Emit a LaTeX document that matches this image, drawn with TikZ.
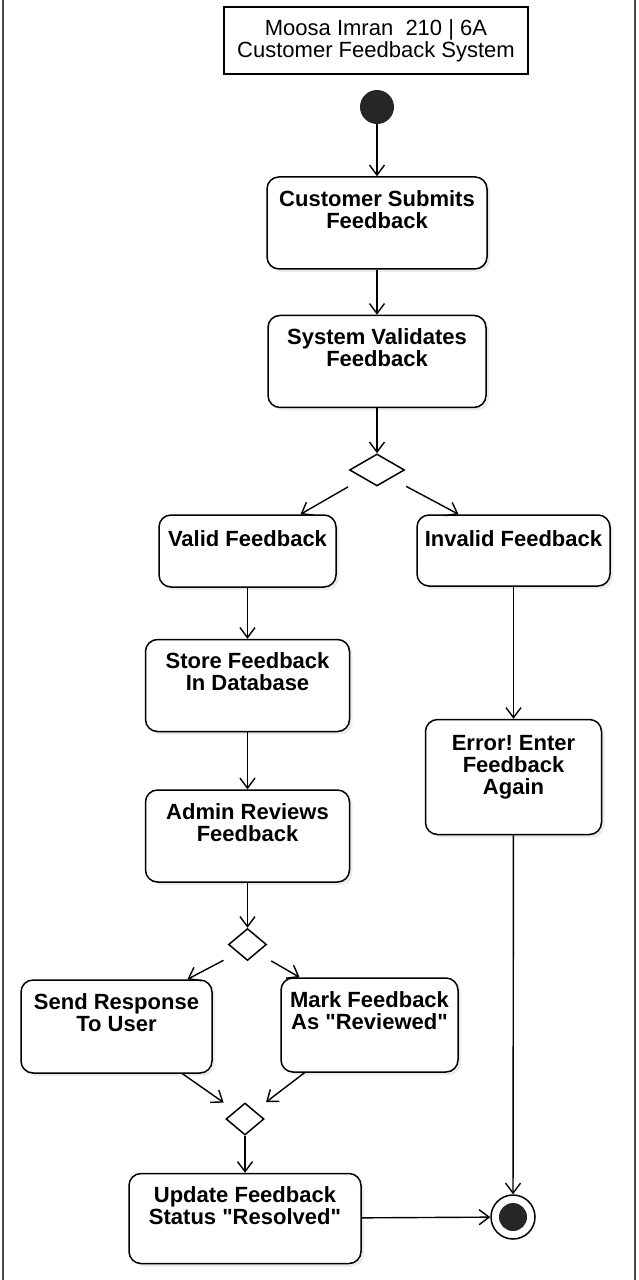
\documentclass[tikz,border=0pt]{standalone}
\usepackage{fontspec}
\setmainfont{Liberation Sans}
\usetikzlibrary{arrows.meta,positioning,shapes.geometric,shadows,calc}
\frenchspacing

\begin{document}
\begin{tikzpicture}[
  x=1pt,y=-1pt,
  >={Straight Barb[length=10pt,width=15pt]},
  act/.style={draw,fill=white,rounded corners=12pt,line width=1.5pt,
    drop shadow={shadow xshift=3pt,shadow yshift=-3pt,opacity=.15}},
  acttext/.style={anchor=north,yshift=-14pt,inner sep=0pt,align=center,
    font=\fontsize{22}{22}\selectfont\bfseries},
  decision/.style={diamond,draw,fill=white,line width=1.5pt,inner sep=0pt},
  flow/.style={->,line width=1.4pt}
]
\useasboundingbox (0,0) rectangle (638,1280);
% sheet edges
\draw[line width=1.2pt,black!70] (3,0) -- (3,1280);
\draw[line width=1.2pt,black!70] (635,0) -- (635,1280);

\node[draw,line width=1.4pt,minimum width=304pt,minimum height=67pt,align=center,
  font=\fontsize{22}{22}\selectfont] (title) at (376,40.5)
  {Moosa Imran~~210 | 6A\\Customer Feedback System};

\node[circle,fill=black!85,minimum size=34pt,inner sep=0pt] (init) at (377,107) {};
\node[act,minimum width=220pt,minimum height=92pt,below=52pt of init,
  label={[acttext]north:{Customer Submits\\Feedback}}] (submit) {};
\node[act,minimum width=218pt,minimum height=92pt,below=45pt of submit,
  label={[acttext]north:{System Validates\\Feedback}}] (validate) {};
\node[decision,minimum width=55pt,minimum height=32pt,below=45pt of validate] (dec1) {};

% valid branch
\node[act,minimum width=177pt,minimum height=72pt,
  label={[acttext,yshift=-2pt]north:{Valid Feedback}}] (valid) at (247.5,551) {};
\node[act,minimum width=204pt,minimum height=92pt,below=51pt of valid,
  label={[acttext]north:{Store Feedback\\In Database}}] (store) {};
\node[act,minimum width=204pt,minimum height=92pt,below=57pt of store,
  label={[acttext]north:{Admin Reviews\\Feedback}}] (review) {};
\node[decision,minimum width=38pt,minimum height=32pt,below=45pt of review] (dec2) {};
\node[act,minimum width=191pt,minimum height=93pt,
  label={[acttext]north:{Send Response\\To User}}] (send) at (116.5,1026.5) {};
\node[act,minimum width=177pt,minimum height=94pt,
  label={[acttext]north:{Mark Feedback\\As \textquotedbl Reviewed\textquotedbl}}] (mark) at (369.5,1025) {};
\node[decision,minimum width=38pt,minimum height=32pt] (dec3) at (245,1119) {};
\node[act,minimum width=232pt,minimum height=90pt,below=37pt of dec3,
  label={[acttext]north:{Update Feedback\\Status \textquotedbl Resolved\textquotedbl}}] (update) {};

% invalid branch
\node[act,minimum width=193pt,minimum height=71pt,
  label={[acttext,yshift=-2pt]north:{Invalid Feedback}}] (invalid) at (513.5,550.5) {};
\node[act,minimum width=176pt,minimum height=115pt,below=132pt of invalid,
  label={[acttext,yshift=-2pt]north:{Error! Enter\\Feedback\\Again}}] (error) {};

\node[circle,draw,fill=white,line width=1.5pt,minimum size=44pt,inner sep=0pt,
  path picture={\fill[black!85] (path picture bounding box.center) circle (14pt);}]
  (final) at (513,1217) {};

\draw[flow] (init) -- (submit);
\draw[flow] (submit) -- (validate);
\draw[flow] (validate) -- (dec1);
\draw[flow,shorten <=17pt] (dec1.south west) -- ($(valid.north)+(53,0)$);
\draw[flow,shorten <=17pt] (dec1.south east) -- ($(invalid.north)+(-55,0)$);
\draw[flow] (valid) -- (store);
\draw[flow] (store) -- (review);
\draw[flow] (review) -- (dec2);
\draw[flow,shorten <=16pt] (dec2.south west) -- ($(send.north)+(71,0)$);
\draw[flow,shorten <=16pt] (dec2.south east) -- ($(mark.north)+(-70,0)$);
\draw[flow,shorten >=14pt] ($(send.south)+(66,0)$) -- (dec3.north west);
\draw[flow,shorten >=14pt] ($(mark.south)+(-65,0)$) -- (dec3.north east);
\draw[flow] (dec3) -- (update);
\draw[flow] (update) -- (final);
\draw[flow] (invalid) -- (error);
\draw[flow] (error) -- (final);
\end{tikzpicture}
\end{document}
